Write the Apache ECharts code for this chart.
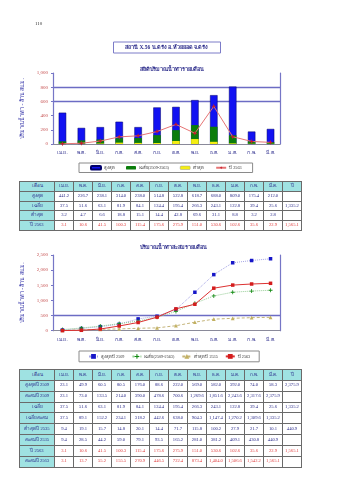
<!DOCTYPE html>
<html>
<head>
<meta charset="utf-8">
<script src="https://cdn.jsdelivr.net/npm/echarts@6/dist/echarts.min.js"></script>
<style>
html,body{margin:0;padding:0;background:#fff;}
#page{position:relative;width:339px;height:480px;overflow:hidden;}
#chart{position:absolute;left:0;top:0;width:339px;height:480px;}
table.t{position:absolute;left:19px;border-collapse:collapse;table-layout:fixed;
  font-family:'Liberation Serif','DejaVu Serif',serif;font-size:4.6px;color:#2a2a8a;}
table.t td{border:0.7px solid #6a6a6a;text-align:center;padding:0;overflow:hidden;white-space:nowrap;line-height:1;}
table.t td.h{background:#9fe2e2;}
table.t tr.red td.v{color:#e03c3c;}
table.t tr.sep td{border-top:1.2px solid #555;}
</style>
</head>
<body>
<div id="page">
  <div id="chart"></div>
  <table class="t" id="t1" style="top:181px;width:282px;"></table>
  <table class="t" id="t2" style="top:369px;width:282px;"></table>
</div>
<script>
// Water year months (April to March)
const months = ['เม.ย.','พ.ค.','มิ.ย.','ก.ค.','ส.ค.','ก.ย.','ต.ค.','พ.ย.','ธ.ค.','ม.ค.','ก.พ.','มี.ค.'];
const tableHead = ['เดือน','เม.ย.','พ.ค.','มิ.ย.','ก.ค.','ส.ค.','ก.ย.','ต.ค.','พ.ย.','ธ.ค.','ม.ค.','ก.พ.','มี.ค.','ปี'];

// Monthly runoff statistics, million m3
const maxMonthly  = [441.2, 226.7, 238.1, 314.0, 238.0, 514.8, 522.8, 618.7, 688.0, 809.0, 175.4, 212.0];
const meanMonthly = [37.5, 51.6, 63.1, 81.9, 84.1, 124.4, 195.4, 266.3, 243.1, 122.8, 39.4, 25.6];
const minMonthly  = [3.2, 4.7, 6.6, 18.8, 15.1, 14.4, 42.8, 69.6, 31.1, 8.8, 3.2, 2.8];
const year2563    = [3.1, 10.6, 41.5, 100.3, 115.4, 175.6, 275.9, 151.0, 530.6, 102.6, 35.6, 22.9];
const meanAnnual  = 1335.2;
const total2563   = 1565.1;

// Wettest year (2509) and driest year (2535), monthly and accumulated
const max2509  = [23.1, 49.9, 60.5, 80.5, 176.0, 88.6, 222.0, 569.0, 582.0, 392.0, 74.0, 58.3];
const cum2509  = [23.1, 73.0, 133.5, 214.0, 390.0, 478.6, 700.6, 1269.6, 1851.6, 2243.6, 2317.6, 2375.9];
const cumMean  = [37.5, 89.1, 152.2, 234.1, 318.2, 442.6, 638.0, 904.3, 1147.4, 1270.2, 1309.6, 1335.2];
const min2535  = [9.4, 19.1, 15.7, 14.8, 20.1, 14.4, 71.7, 115.8, 100.2, 27.9, 21.7, 10.1];
const cum2535  = [9.4, 28.5, 44.2, 59.0, 79.1, 93.5, 165.2, 281.0, 381.2, 409.1, 430.8, 440.9];
const cum2563  = [3.1, 13.7, 55.2, 155.5, 270.9, 446.5, 722.4, 873.4, 1404.0, 1506.6, 1542.2, 1565.1];
const total2509 = 2375.9;
const total2535 = 440.9;

const fmt = v => (v === null || v === undefined || v === '') ? '' :
  v.toLocaleString('en-US', {minimumFractionDigits: 1, maximumFractionDigits: 1});

// ---- tables ----
function buildTable(id, rows, rowH) {
  const t = document.getElementById(id);
  let html = '<colgroup><col style="width:35px">' + '<col style="width:19px">'.repeat(13) + '</colgroup>';
  html += '<tr style="height:' + rowH + 'px">' + tableHead.map(h => '<td class="h">' + h + '</td>').join('') + '</tr>';
  rows.forEach(r => {
    const cls = (r.red ? 'red ' : '') + (r.sep ? 'sep' : '');
    html += '<tr class="' + cls + '" style="height:' + rowH + 'px"><td class="h">' + r.label + '</td>' +
      r.values.map(v => '<td class="v">' + fmt(v) + '</td>').join('') +
      '<td class="v">' + fmt(r.year) + '</td></tr>';
  });
  t.innerHTML = html;
}
buildTable('t1', [
  {label: 'สูงสุด', values: maxMonthly, year: ''},
  {label: 'เฉลี่ย', values: meanMonthly, year: meanAnnual},
  {label: 'ต่ำสุด', values: minMonthly, year: '', sep: true},
  {label: 'ปี 2563', values: year2563, year: total2563, red: true}
], 9.8);
buildTable('t2', [
  {label: 'สูงสุดปี 2509', values: max2509, year: total2509},
  {label: 'สะสมปี 2509', values: cum2509, year: ''},
  {label: 'เฉลี่ย', values: meanMonthly, year: meanAnnual, sep: true},
  {label: 'เฉลี่ยสะสม', values: cumMean, year: ''},
  {label: 'ต่ำสุดปี 2535', values: min2535, year: total2535, sep: true},
  {label: 'สะสมปี 2535', values: cum2535, year: ''},
  {label: 'ปี 2563', values: year2563, year: total2563, red: true, sep: true},
  {label: 'สะสมปี 2563', values: cum2563, year: '', red: true}
], 10.85);

// ---- charts ----
const FONT = "'Liberation Serif','DejaVu Serif',serif";
const axisColor = '#7676c6';
const gridColor = '#6c6cc4';
const starPath = 'path://M0,-5L1.4,-1.4L5,0L1.4,1.4L0,5L-1.4,1.4L-5,0L-1.4,-1.4Z';
const crossPath = 'path://M-1,-5H1V-1H5V1H1V5H-1V1H-5V-1H-1Z';
const legendText = {
  'สูงสุด': 'สูงสุด', 'เฉลี่ย(2509-2563)': 'เฉลี่ย(2509-2563)', 'ต่ำสุด': 'ต่ำสุด', 'ปี 2563': 'ปี 2563',
  'สูงสุดปี 2509': 'สูงสุดปี 2509', 'สะสมเฉลี่ย': 'เฉลี่ย(2509-2563)', 'ต่ำสุดปี 2535': 'ต่ำสุดปี 2535', 'สะสมปี 2563': 'ปี 2563'
};
const T = 'rgba(0,0,0,0)';

function xAxisFor(gi) {
  return {
    type: 'category', gridIndex: gi, data: months, boundaryGap: true,
    axisLine: {lineStyle: {color: '#8a8a9a', width: 1.2}},
    axisTick: {show: false},
    axisLabel: {fontSize: 5, color: '#2b2b8c', margin: 6, fontFamily: FONT, interval: 0}
  };
}
// left value axis draws only the chosen guide lines (colours cycle per tick from the minimum)
function leftAxis(gi, max, interval, lineColors) {
  return {
    type: 'value', gridIndex: gi, min: 0, max: max, interval: interval,
    axisLine: {show: true, lineStyle: {color: axisColor, width: 1.2}},
    axisTick: {show: true, length: 2, lineStyle: {color: axisColor}},
    axisLabel: {fontSize: 5, color: '#c44a4a', margin: 5, fontFamily: FONT,
      formatter: v => v.toLocaleString('en-US')},
    splitLine: {show: true, lineStyle: {color: lineColors, width: 1.3, type: 'solid'}},
    name: 'ปริมาณน้ำท่า - ล้าน ลบ.ม.', nameLocation: 'middle', nameGap: 23, nameRotate: 90,
    nameTextStyle: {fontSize: 5.5, color: '#3434a8', fontFamily: FONT}
  };
}
function rightAxis(gi, max, interval) {
  return {
    type: 'value', gridIndex: gi, min: 0, max: max, interval: interval, position: 'right',
    axisLine: {show: true, lineStyle: {color: axisColor, width: 1.2}},
    axisTick: {show: false}, axisLabel: {show: false}, splitLine: {show: false}
  };
}

const legendBase = {
  orient: 'horizontal', itemWidth: 10, itemHeight: 3.5, itemGap: 11,
  padding: [2, 11, 2, 11], borderColor: '#8a8a8a', borderWidth: 1,
  textStyle: {fontSize: 4.2, color: '#333', fontFamily: FONT, padding: [0, 0, 0, -2]},
  formatter: n => legendText[n] || n
};

const chart = echarts.init(document.getElementById('chart'), null, {renderer: 'canvas'});
chart.setOption({
  animation: false,
  backgroundColor: '#fff',
  title: [
    {text: '110', left: 30, top: 16, textStyle: {fontSize: 5, fontWeight: 'normal', color: '#333', fontFamily: FONT}},
    {text: 'สถานี X.56 น.ตรัง อ.ห้วยยอด จ.ตรัง', left: 113, top: 42, padding: [2.5, 12, 2.5, 12],
      borderColor: '#7c7cc8', borderWidth: 1,
      textStyle: {fontSize: 5.5, fontWeight: 'bold', color: '#2a2a8a', fontFamily: FONT}},
    {text: 'สถิติปริมาณน้ำท่ารายเดือน', left: 167, top: 62, textAlign: 'center',
      textStyle: {fontSize: 5.5, fontWeight: 'bold', color: '#2a2a8a', fontFamily: FONT}},
    {text: 'ปริมาณน้ำท่าสะสมรายเดือน', left: 168, top: 240, textAlign: 'center',
      textStyle: {fontSize: 5.5, fontWeight: 'bold', color: '#2a2a8a', fontFamily: FONT}}
  ],
  grid: [
    {left: 53, top: 73, width: 227, height: 71},
    {left: 53, top: 255, width: 227, height: 75.7}
  ],
  legend: [
    Object.assign({}, legendBase, {left: 79, top: 163, itemHeight: 3.5,
      data: ['สูงสุด', 'เฉลี่ย(2509-2563)', {name: 'ต่ำสุด', itemStyle: {borderColor: '#999', borderWidth: 0.5}}, 'ปี 2563']}),
    Object.assign({}, legendBase, {left: 79, top: 351, itemGap: 7, itemWidth: 9, itemHeight: 6,
      padding: [3, 9, 3, 9],
      data: ['สูงสุดปี 2509', 'สะสมเฉลี่ย', 'ต่ำสุดปี 2535', 'สะสมปี 2563']})
  ],
  xAxis: [xAxisFor(0), xAxisFor(1)],
  yAxis: [
    leftAxis(0, 1000, 200, [T, T, T, gridColor, gridColor, T]),
    leftAxis(1, 2500, 500, [T, gridColor, T, T, T, T]),
    rightAxis(0, 1000, 200),
    rightAxis(1, 2500, 500)
  ],
  series: [
    {name: 'สูงสุด', type: 'bar', xAxisIndex: 0, yAxisIndex: 0, data: maxMonthly,
      barWidth: 7.5, barGap: '-100%',
      itemStyle: {color: '#1212f2', borderColor: '#00006a', borderWidth: 0.5}, z: 3},
    {name: 'เฉลี่ย(2509-2563)', type: 'bar', xAxisIndex: 0, yAxisIndex: 0, data: meanMonthly,
      barWidth: 7.5, barGap: '-100%', itemStyle: {color: '#0b7d0b'}, z: 4},
    {name: 'ต่ำสุด', type: 'bar', xAxisIndex: 0, yAxisIndex: 0, data: minMonthly,
      barWidth: 7.5, barGap: '-100%', itemStyle: {color: '#f5ee12'}, z: 5},
    {name: 'ปี 2563', type: 'line', xAxisIndex: 0, yAxisIndex: 0, data: year2563,
      symbol: starPath, symbolSize: 5, itemStyle: {color: '#c41e2e'},
      lineStyle: {color: '#e67474', width: 1}, z: 6},

    {name: 'สูงสุดปี 2509', type: 'line', xAxisIndex: 1, yAxisIndex: 1, data: cum2509,
      symbol: 'rect', symbolSize: 3.5, itemStyle: {color: '#1616c8'},
      lineStyle: {color: '#a4a4e4', width: 1, type: 'dotted'}, z: 3},
    {name: 'สะสมเฉลี่ย', type: 'line', xAxisIndex: 1, yAxisIndex: 1, data: cumMean,
      symbol: crossPath, symbolSize: 4, itemStyle: {color: '#128a12'},
      lineStyle: {color: '#94cc94', width: 1, type: 'dotted'}, z: 4},
    {name: 'ต่ำสุดปี 2535', type: 'line', xAxisIndex: 1, yAxisIndex: 1, data: cum2535,
      symbol: 'triangle', symbolSize: 3.8, itemStyle: {color: '#c2b060'},
      lineStyle: {color: '#c4b47a', width: 1, type: [3, 2]}, z: 3},
    {name: 'สะสมปี 2563', type: 'line', xAxisIndex: 1, yAxisIndex: 1, data: cum2563,
      symbol: 'rect', symbolSize: 3.5, itemStyle: {color: '#d41c1c'},
      lineStyle: {color: '#dc3232', width: 1}, z: 5}
  ]
});
</script>
</body>
</html>
